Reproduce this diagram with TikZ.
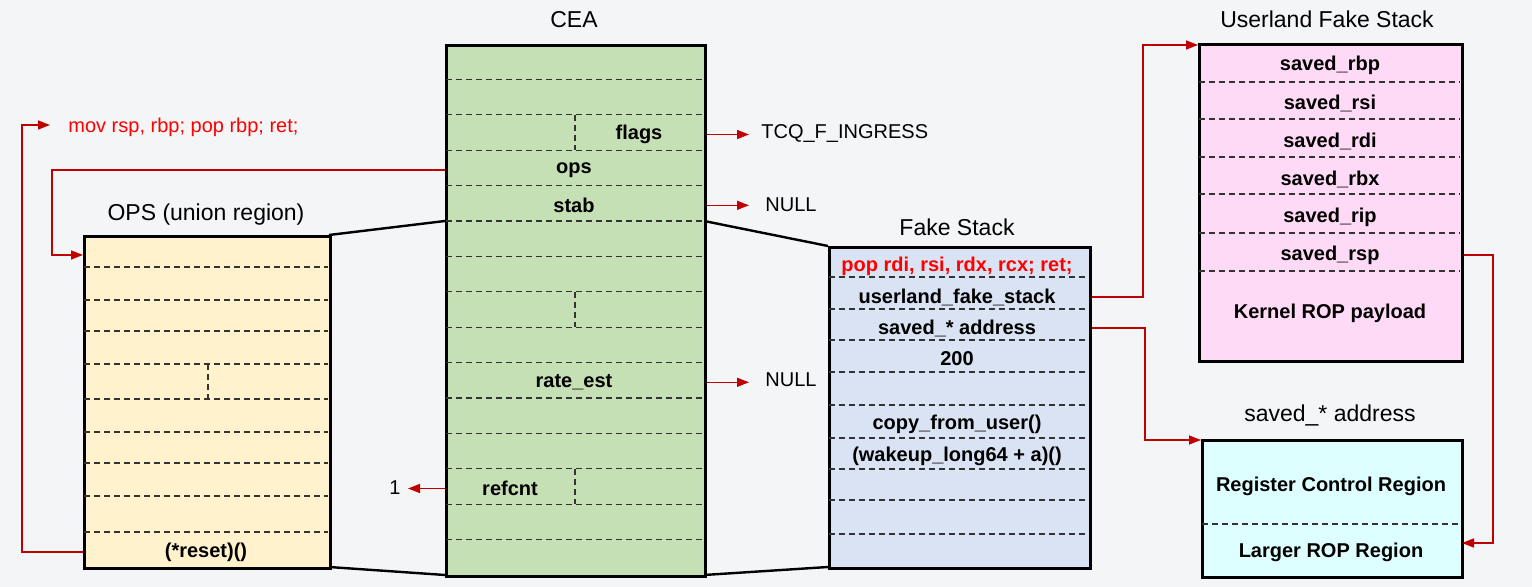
\documentclass[tikz,border=0pt]{standalone}
\usepackage{fontspec}
\setmainfont{Liberation Sans}
\usetikzlibrary{arrows.meta}
\definecolor{bg}{HTML}{F4F5F7}
\definecolor{ceag}{HTML}{C5E0B4}
\definecolor{opsy}{HTML}{FFF2CC}
\definecolor{fsb}{HTML}{DAE3F3}
\definecolor{ubp}{HTML}{FFDAF6}
\definecolor{sbc}{HTML}{DDFFFF}
\definecolor{arr}{HTML}{C00000}
\definecolor{txtred}{HTML}{FF0000}
\definecolor{dashc}{HTML}{333333}
\begin{document}
\begin{tikzpicture}[x=0.5pt,y=-0.5pt,
  membox/.style={draw=black,line width=1.5pt,inner sep=0pt,anchor=north west},
  dline/.style={draw=dashc,line width=0.55pt,dash pattern=on 3pt off 2pt},
  fld/.style={font=\fontsize{10pt}{12pt}\selectfont\bfseries,inner sep=1pt,yshift=-1pt},
  ttl/.style={font=\fontsize{11.5pt}{13pt}\selectfont,inner sep=1pt},
  side/.style={font=\fontsize{10pt}{12pt}\selectfont,inner sep=0pt},
  redarrow/.style={draw=arr,line width=0.75pt,-{Triangle[length=6pt,width=4.5pt]}},
  trap/.style={draw=black,line width=1.2pt}]
\fill[bg] (0,0) rectangle (1532,587);
\useasboundingbox (0,0) rectangle (1532,587);

% ---------- trapezoid lines ----------
\coordinate (t1) at (329,235);
\coordinate (t2) at (445,221);
\coordinate (t3) at (329,567);
\coordinate (t4) at (445,575);
\coordinate (t5) at (704,221);
\coordinate (t6) at (828,246);
\coordinate (t7) at (704,575);
\coordinate (t8) at (828,567);
\draw[trap] (t1) -- (t2);
\draw[trap] (t3) -- (t4);
\draw[trap] (t5) -- (t6);
\draw[trap] (t7) -- (t8);

% ---------- CEA ----------
\node[membox,fill=ceag,minimum width=129.5pt,minimum height=265.5pt] (cea) at (445,44) {};
\foreach \k in {1,...,14}
  \draw[dline] (446,{44+35.4*\k}) -- (703,{44+35.4*\k});
\draw[dline] (575,{44+35.4*2}) -- (575,{44+35.4*3});
\draw[dline] (575,{44+35.4*7}) -- (575,{44+35.4*8});
\draw[dline] (575,{44+35.4*12}) -- (575,{44+35.4*13});
\node[ttl] (ceat) at (574,20) {CEA};
\node[fld] (flags) at (639,{44+35.4*2.5}) {flags};
\node[fld] (ops) at (574,{44+35.4*3.5}) {ops};
\node[fld] (stab) at (574,{44+35.4*4.5}) {stab};
\node[fld] (rate) at (574,{44+35.4*9.5}) {rate\_est};
\node[fld] (refcnt) at (510,{44+35.4*12.5}) {refcnt};

% ---------- OPS ----------
\node[membox,fill=opsy,minimum width=123pt,minimum height=166pt] (opsb) at (83,235) {};
\foreach \yy in {267,300,331,364,399,432,463,496,532}
  \draw[dline] (84,\yy) -- (328,\yy);
\draw[dline] (208,364) -- (208,399);
\node[ttl] (opst) at (206,215) {OPS (union region)};
\node[fld] (reset) at (206,550) {(*reset)()};

% ---------- Fake Stack ----------
\node[membox,fill=fsb,minimum width=130.5pt,minimum height=160.5pt] (fs) at (828,246) {};
\foreach \yy in {277,309,340,372,405,438,469,500,534}
  \draw[dline] (829,\yy) -- (1087,\yy);
\node[ttl] (fst) at (957,227) {Fake Stack};
\node[fld,text=txtred] (pop) at (957,264) {pop rdi, rsi, rdx, rcx; ret;};
\node[fld] (ufs) at (957,295) {userland\_fake\_stack};
\node[fld] (saddr) at (957,326) {saved\_* address};
\node[fld] (two) at (957,357) {200};
\node[fld] (cfu) at (957,422) {copy\_from\_user()};
\node[fld] (wake) at (957,454) {(wakeup\_long64 + a)()};

% ---------- Userland Fake Stack ----------
\node[membox,fill=ubp,minimum width=131.5pt,minimum height=158.5pt] (ub) at (1198,43) {};
\foreach \yy in {82,119,157,194,233,271}
  \draw[dline] (1199,\yy) -- (1460,\yy);
\node[ttl] (ubt) at (1327,19) {Userland Fake Stack};
\node[fld] (srbp) at (1330,63) {saved\_rbp};
\node[fld] (srsi) at (1330,101) {saved\_rsi};
\node[fld] (srdi) at (1330,139) {saved\_rdi};
\node[fld] (srbx) at (1330,177) {saved\_rbx};
\node[fld] (srip) at (1330,215) {saved\_rip};
\node[fld] (srsp) at (1330,253) {saved\_rsp};
\node[fld] (krop) at (1330,311) {Kernel ROP payload};

% ---------- saved_* address ----------
\node[membox,fill=sbc,minimum width=130pt,minimum height=68.5pt] (sb) at (1201,439) {};
\draw[dline] (1202,524) -- (1460,524);
\node[ttl] (sbt) at (1330,415) {saved\_* address};
\node[fld] (rcr) at (1331,484) {Register Control Region};
\node[fld] (lrr) at (1331,550) {Larger ROP Region};

% ---------- side texts ----------
\node[side,anchor=west] (tcq) at (761,134) {TCQ\_F\_INGRESS};
\node[side,anchor=west] (null1) at (765,205) {NULL};
\node[side,anchor=west] (null2) at (765,380) {NULL};
\node[side,anchor=east] (one) at (401,488) {1};
\node[side,anchor=west,text=txtred] (mov) at (68,127) {mov rsp, rbp; pop rbp; ret;};

% ---------- connectors ----------
\draw[redarrow,shorten >=6pt] (flags -| cea.east) -- (flags -| tcq.west);
\draw[redarrow,shorten >=8pt] (stab -| cea.east) -- (stab -| null1.west);
\draw[redarrow,shorten >=8pt] (rate -| cea.east) -- (rate -| null2.west);
\draw[redarrow,shorten >=3.5pt] (refcnt -| cea.west) -- (refcnt -| one.east);
\coordinate (opsin) at (83,255);
\draw[redarrow] (ops -| cea.west) -| (52,255) -- (opsin);
\coordinate (movin) at (50,125);
\draw[redarrow] (reset -| opsb.west) -| (22,125) -- (movin);
\coordinate (ubin) at (1198,45);
\draw[redarrow] (ufs -| fs.east) -| (1143,45) -- (ubin);
\coordinate (sbin) at (1201,440);
\draw[redarrow] (saddr -| fs.east) -| (1145,440) -- (sbin);
\coordinate (sbin2) at (1462,543);
\draw[redarrow] (srsp -| ub.east) -| (1493,543) -- (sbin2);
\end{tikzpicture}
\end{document}
